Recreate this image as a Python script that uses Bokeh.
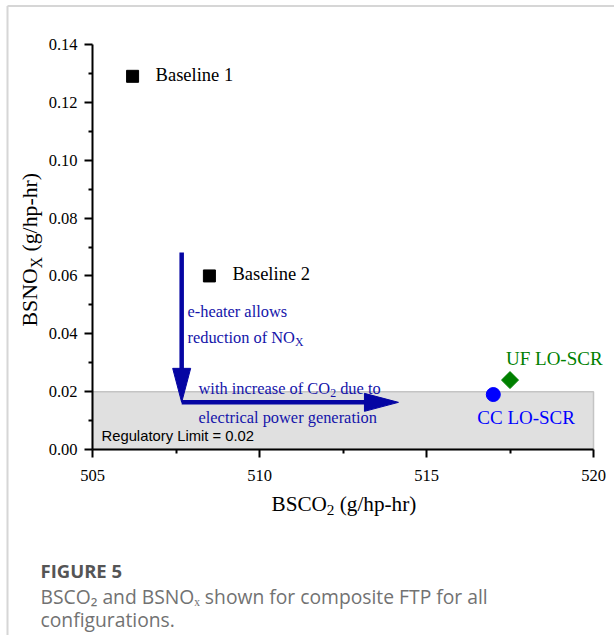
import math

from bokeh.embed import file_html
from bokeh.models import (Arrow, ColumnDataSource, FixedTicker, Label,
                          PrintfTickFormatter)
from bokeh.plotting import figure
from bokeh.resources import INLINE

# ---- data -----------------------------------------------------------------
configs = ["Baseline 1", "Baseline 2", "CC LO-SCR", "UF LO-SCR"]
bsco2 = [506.2, 508.5, 517.0, 517.5]          # g/hp-hr
bsnox = [0.129, 0.060, 0.019, 0.024]          # g/hp-hr
marker_kind = ["square", "square", "circle", "square"]
marker_angle = [0.0, 0.0, 0.0, math.pi / 4]   # UF point drawn as a diamond
marker_size = [12, 12, 14, 12]
marker_color = ["#000000", "#000000", "#0000ff", "#008000"]

x_ticks = [505, 510, 515, 520]
x_minor = [507.5, 512.5, 517.5]
y_ticks = [0.00, 0.02, 0.04, 0.06, 0.08, 0.10, 0.12, 0.14]
y_minor = [0.01, 0.03, 0.05, 0.07, 0.09, 0.11, 0.13]
reg_limit = 0.02

# ---- layout ---------------------------------------------------------------
# The plotting frame fills the whole canvas; the axes sit at fixed data
# locations so that titles and the caption can live in the same frame.
W, H = 614, 635
AX_L, AX_R, AX_T, AX_B = 92, 593, 44, 449      # axis box in canvas px
X0, X1 = 505, 520
Y0, Y1 = 0.0, 0.14
KX = (X1 - X0) / (AX_R - AX_L)                 # data per px
KY = (Y1 - Y0) / (AX_B - AX_T)
XS, XE = X0 - AX_L * KX, X1 + (W - AX_R) * KX
YS, YE = Y0 - (H - AX_B) * KY, Y1 + AX_T * KY


def dx(px):
    """canvas x pixel -> data x"""
    return XS + px * KX


def dy(py):
    """canvas y pixel (from top) -> data y"""
    return YE - py * KY


SERIF = "Liberation Serif"
SANS = "Liberation Sans"

p = figure(width=W, height=H, x_range=(XS, XE), y_range=(YS, YE),
           output_backend="svg", toolbar_location=None, min_border=0)
p.outline_line_color = None
p.grid.visible = False
p.background_fill_color = "white"
p.border_fill_color = "white"

p.xaxis.fixed_location = Y0
p.yaxis.fixed_location = X0
p.xaxis.bounds = (X0, X1)
p.yaxis.bounds = (Y0, Y1)
p.axis.axis_line_width = 2
p.axis.axis_line_color = "black"
p.axis.major_tick_line_width = 2
p.axis.minor_tick_line_width = 2
p.axis.major_tick_in = 0
p.axis.major_tick_out = 8
p.axis.minor_tick_in = 0
p.axis.minor_tick_out = 4
p.axis.major_label_text_font = SERIF
p.axis.major_label_text_font_size = "16.5px"
p.axis.major_label_text_color = "black"
p.yaxis.major_label_standoff = 7
p.xaxis.major_label_standoff = 12

p.xaxis.ticker = FixedTicker(ticks=x_ticks, minor_ticks=x_minor)
p.yaxis.ticker = FixedTicker(ticks=y_ticks, minor_ticks=y_minor)
p.yaxis.formatter = PrintfTickFormatter(format="%.2f")
p.xaxis.formatter = PrintfTickFormatter(format="%d")

# regulatory limit band
p.quad(left=[X0], right=[X1], bottom=[Y0], top=[reg_limit],
       fill_color="#e0e0e0", line_color="#c4c4c4", line_width=1.5)

# configuration points
src = ColumnDataSource(dict(x=bsco2, y=bsnox, marker=marker_kind,
                            angle=marker_angle, size=marker_size,
                            color=marker_color))
p.scatter("x", "y", source=src, marker="marker", angle="angle", size="size",
          fill_color="color", line_color="color")

# ---- arrows ---------------------------------------------------------------
ARROW_COLOR = "#0505a3"
ARROW_X = 507.67          # vertical arrow position (BSCO2)
ARROW_TOP = 0.0681        # start of NOx-reduction arrow
ARROW_Y = 0.0163          # horizontal arrow level / tip of vertical arrow
ARROW_END = 514.16        # tip of CO2-increase arrow
HEAD_LEN, HEAD_HALF = 34, 9   # px

p.segment(x0=[ARROW_X, ARROW_X], y0=[ARROW_TOP, ARROW_Y],
          x1=[ARROW_X, ARROW_END - HEAD_LEN * KX * 0.9],
          y1=[ARROW_Y + HEAD_LEN * KY * 0.9, ARROW_Y],
          line_color=ARROW_COLOR, line_width=4.5)
p.patches(
    xs=[[ARROW_X - HEAD_HALF * KX, ARROW_X + HEAD_HALF * KX, ARROW_X],
        [ARROW_END - HEAD_LEN * KX, ARROW_END - HEAD_LEN * KX, ARROW_END]],
    ys=[[ARROW_Y + HEAD_LEN * KY, ARROW_Y + HEAD_LEN * KY, ARROW_Y],
        [ARROW_Y + HEAD_HALF * KY, ARROW_Y - HEAD_HALF * KY, ARROW_Y]],
    fill_color=ARROW_COLOR, line_color=ARROW_COLOR, line_width=1)

# ---- text helpers ---------------------------------------------------------
# Times-style advance widths (em) used to lay out runs with subscripts
TW = {" ": .25, "(": .333, ")": .333, "/": .278, "-": .333, ".": .25,
      "0": .5, "1": .5, "2": .5, "3": .5, "4": .5, "5": .5,
      "B": .667, "C": .667, "N": .722, "O": .722, "S": .556, "X": .722,
      "a": .444, "b": .5, "c": .444, "d": .5, "e": .444, "f": .333,
      "g": .5, "h": .5, "i": .278, "l": .278, "n": .5, "o": .5, "p": .5,
      "r": .333, "s": .389, "t": .278, "u": .5, "w": .722, "y": .5}


def text_w(s, fs):
    return sum(TW.get(c, .5) for c in s) * fs


def add_text(text, px, py, size, color, font=SERIF, style="normal", **kw):
    p.add_layout(Label(x=dx(px), y=dy(py), text=text, text_font=font,
                       text_font_size=f"{size}px", text_font_style=style,
                       text_color=color, text_align="left",
                       text_baseline="alphabetic", **kw))


def run(pieces, px, py, fs, color, font=SERIF, vertical=False):
    """Lay out [(text, is_subscript), ...] from canvas pixel (px, py)."""
    adv = 0.0
    for txt, sub in pieces:
        size = fs * 0.72 if sub else fs
        drop = fs * 0.28 if sub else 0.0
        lead = len(txt) - len(txt.lstrip(" "))
        adv += text_w(" " * lead, size)
        body = txt.lstrip(" ")
        if vertical:
            add_text(body, px, py, size, color, font,
                     x_offset=drop, y_offset=adv, angle=math.pi / 2)
        else:
            add_text(body, px, py, size, color, font,
                     x_offset=adv, y_offset=-drop)
        adv += text_w(body, size)


# point labels, offset from their markers in px
label_offsets = {"Baseline 1": (23, 1), "Baseline 2": (23, 2),
                 "CC LO-SCR": (-16, -23), "UF LO-SCR": (-4, 22)}
label_sizes = {"Baseline 1": 18.5, "Baseline 2": 18.5,
               "CC LO-SCR": 19, "UF LO-SCR": 19}
for name, xv, yv, col in zip(configs, bsco2, bsnox, marker_color):
    ox, oy = label_offsets[name]
    p.add_layout(Label(x=xv, y=yv, x_offset=ox, y_offset=oy, text=name,
                       text_font=SERIF, text_font_size=f"{label_sizes[name]}px",
                       text_color=col, text_align="left",
                       text_baseline="alphabetic"))

add_text("Regulatory Limit = 0.02", 101, 435.5, 14.8, "black", font=SANS)

NOTE_COLOR = "#1414aa"
run([("e-heater allows", False)], 187, 310.5, 16.4, NOTE_COLOR)
run([("reduction of NO", False), ("X", True)], 187, 336.5, 16.4, NOTE_COLOR)
run([("with increase of CO", False), ("2", True), (" due to", False)],
    198, 387.5, 16.4, NOTE_COLOR)
run([("electrical power generation", False)], 198, 416.5, 16.4, NOTE_COLOR)

# axis titles
run([("BSCO", False), ("2", True), (" (g/hp-hr)", False)],
    271, 503.5, 21.2, "black")
run([("BSNO", False), ("X", True), (" (g/hp-hr)", False)],
    29.5, 326, 21.8, "black", vertical=True)

# caption
add_text("FIGURE 5", 40, 570, 18.5, "#555555", font="Open Sans", style="bold")
add_text("BSCO\u2082 and BSNO\u2093 shown for composite FTP for all",
         40, 596, 19.3, "#727272", font="Open Sans")
add_text("configurations.", 40, 619, 19.3, "#727272", font="Open Sans")

# page rules (top and left)
for xs, ys, xe, ye in [(7, 5.5, 640, 5.5), (7, 5.5, 7, 660)]:
    p.add_layout(Arrow(end=None, x_start=dx(xs), y_start=dy(ys),
                       x_end=dx(xe), y_end=dy(ye),
                       line_color="#d6d6d6", line_width=2))

open("out.html", "w").write(file_html(p, INLINE))
